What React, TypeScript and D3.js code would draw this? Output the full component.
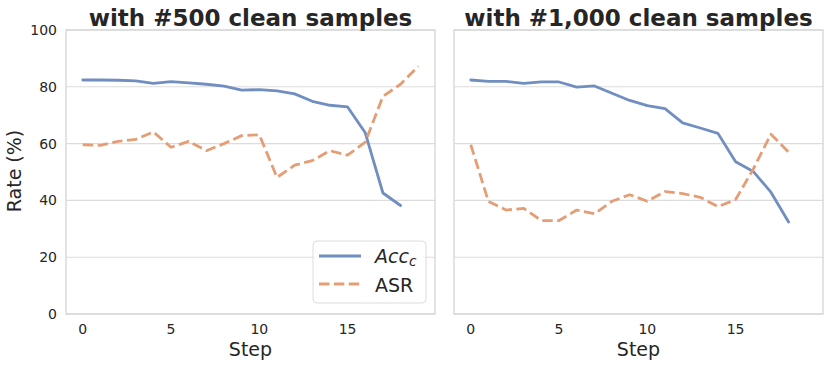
import React from "react";
import * as d3 from "d3";

const acc500 = [82.4, 82.4, 82.3, 82.1, 81.2, 81.8, 81.4, 80.9, 80.2, 78.8, 79.0, 78.6, 77.5, 74.9, 73.5, 72.9, 63.8, 42.6, 38.2];
const asr500 = [59.6, 59.4, 60.8, 61.5, 64.1, 58.7, 60.8, 57.5, 60.0, 62.8, 63.1, 48.1, 52.4, 54.0, 57.5, 55.9, 60.5, 76.6, 80.9, 87.2];
const acc1000 = [82.4, 81.9, 81.9, 81.2, 81.7, 81.7, 79.9, 80.3, 77.7, 75.2, 73.4, 72.3, 67.3, 65.5, 63.6, 53.6, 50.2, 42.9, 32.4];
const asr1000 = [59.6, 39.6, 36.6, 37.2, 32.9, 32.9, 36.6, 35.3, 39.7, 42.0, 39.7, 43.1, 42.4, 41.1, 37.8, 40.3, 51.0, 63.3, 57.0];
const titles = ["with #500 clean samples", "with #1,000 clean samples"];
const xTicks = [0, 5, 10, 15];
const yTicks = [0, 20, 40, 60, 80, 100];
const seriesNames = ["Acc", "ASR"];

const BLUE = "#708ec0";
const ORANGE = "#e49d75";
const FONT = "DejaVu Sans, sans-serif";
const LW = 2.8;
const DASH = "10.4,4.5";

const panels = [
  { left: 66, acc: acc500, asr: asr500, title: titles[0] },
  { left: 454, acc: acc1000, asr: asr1000, title: titles[1] },
];

export default function App() {
  const W = 830, H = 367;
  const top = 30, bottom = 314, pw = 369;
  const y = d3.scaleLinear().domain([0, 100]).range([bottom, top]);
  return (
    <svg width={W} height={H} style={{ position: "absolute", left: 0, top: 0 }} fontFamily={FONT}>
      <rect width={W} height={H} fill="#fff" />
      {panels.map((p, pi) => {
        const x = d3.scaleLinear().domain([-0.95, 19.95]).range([p.left, p.left + pw]);
        const line = d3.line<number>().x((_, i) => x(i)).y((d) => y(d));
        return (
          <g key={pi}>
            {yTicks.map((t) => (
              <line key={t} x1={p.left} x2={p.left + pw} y1={y(t)} y2={y(t)} stroke="#dcdcdc" strokeWidth={1.1} />
            ))}
            <rect x={p.left} y={top} width={pw} height={bottom - top} fill="none" stroke="#d4d4d4" strokeWidth={1.3} />
            <path d={line(p.acc) || ""} fill="none" stroke={BLUE} strokeWidth={LW} strokeLinejoin="round" strokeLinecap="round" />
            <path d={line(p.asr) || ""} fill="none" stroke={ORANGE} strokeWidth={LW} strokeDasharray={DASH} strokeLinejoin="round" />
            {xTicks.map((t) => (
              <text key={t} x={x(t)} y={334} textAnchor="middle" fontSize={14} fill="#262626">{t}</text>
            ))}
            <text x={p.left + pw / 2} y={356} textAnchor="middle" fontSize={19} fill="#262626">Step</text>
            <text x={p.left + pw / 2} y={26} textAnchor="middle" fontSize={23} fontWeight="bold" fill="#262626">{p.title}</text>
            {pi === 0 && yTicks.map((t) => (
              <text key={t} x={57} y={y(t) + 5} textAnchor="end" fontSize={14} fill="#262626">{t}</text>
            ))}
            {pi === 0 && (
              <g>
                <rect x={313} y={241} width={113} height={62} rx={4} fill="#fff" fillOpacity={0.8} stroke="#dcdcdc" strokeWidth={1} />
                <line x1={319} x2={361} y1={256} y2={256} stroke={BLUE} strokeWidth={LW} />
                <line x1={319} x2={361} y1={284} y2={284} stroke={ORANGE} strokeWidth={LW} strokeDasharray={DASH} />
                <text x={375} y={263} fontSize={19} fill="#262626">
                  <tspan fontStyle="italic">{seriesNames[0]}</tspan>
                  <tspan fontStyle="italic" fontSize={13.5} dy={3}>c</tspan>
                </text>
                <text x={375} y={292} fontSize={19} fill="#262626">{seriesNames[1]}</text>
              </g>
            )}
          </g>
        );
      })}
      <text transform={`translate(21,171) rotate(-90)`} textAnchor="middle" fontSize={19} fill="#262626">Rate (%)</text>
    </svg>
  );
}
